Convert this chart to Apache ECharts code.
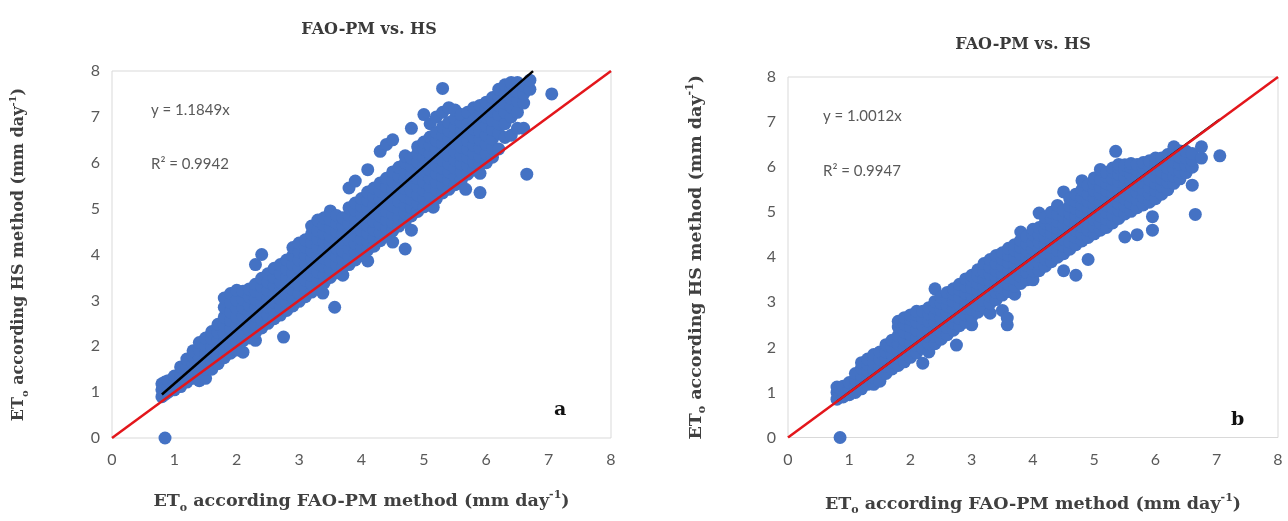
<!DOCTYPE html>
<html>
<head>
<meta charset="utf-8">
<script src="https://cdn.jsdelivr.net/npm/echarts@6/dist/echarts.min.js"></script>
<style>
  html, body { margin: 0; padding: 0; background: #fff; }
  #chart { width: 1288px; height: 521px; }
</style>
</head>
<body>
<div id="chart"></div>
<script>
// axis ticks shared by both panels
const axisTicks = [0, 1, 2, 3, 4, 5, 6, 7, 8];

// panel a: FAO-PM (x) vs HS (y)
const panelACols = [
  [0.80, [0.9, 1.05, 1.18]],
  [0.85, [0.0, 0.95, 1.1, 1.22]],
  [0.90, [1.0, 1.12, 1.25]],
  [1.00, [1.05, 1.2, 1.35]],
  [1.10, [1.12, 1.28, 1.42, 1.55]],
  [1.20, [1.22, 1.38, 1.55, 1.72]],
  [1.30, [1.3, 1.46, 1.62, 1.78, 1.9]],
  [1.40, [1.25, 1.42, 1.58, 1.75, 1.92, 2.08]],
  [1.50, [1.3, 1.5, 1.68, 1.85, 2.02, 2.18]],
  [1.60, [1.5, 1.66, 1.83, 2.0, 2.17, 2.32]],
  [1.70, [1.62, 1.8, 1.97, 2.14, 2.3, 2.48]],
  [1.80, [1.75, 1.92, 2.1, 2.28, 2.46, 2.64, 2.85, 3.05]],
  [1.90, [1.85, 2.02, 2.2, 2.38, 2.56, 2.75, 2.95, 3.15]],
  [2.00, [1.92, 2.1, 2.28, 2.46, 2.64, 2.82, 3.0, 3.22]],
  [2.10, [1.87, 2.12, 2.3, 2.48, 2.66, 2.84, 3.02, 3.2]],
  [2.20, [2.18, 2.36, 2.54, 2.72, 2.9, 3.08, 3.25]],
  [2.30, [2.13, 2.3, 2.48, 2.66, 2.84, 3.02, 3.2, 3.35, 3.78]],
  [2.40, [2.4, 2.58, 2.76, 2.94, 3.12, 3.3, 3.48, 4.0]],
  [2.50, [2.5, 2.68, 2.86, 3.04, 3.22, 3.4, 3.58]],
  [2.60, [2.6, 2.78, 2.96, 3.14, 3.32, 3.5, 3.7]],
  [2.70, [2.68, 2.86, 3.04, 3.22, 3.4, 3.58, 3.78]],
  [2.75, [2.2]],
  [2.80, [2.78, 2.96, 3.14, 3.32, 3.5, 3.68, 3.88]],
  [2.90, [2.88, 3.06, 3.24, 3.42, 3.6, 3.78, 3.98, 4.15]],
  [3.00, [2.98, 3.16, 3.34, 3.52, 3.7, 3.88, 4.06, 4.25]],
  [3.10, [3.08, 3.26, 3.44, 3.62, 3.8, 3.98, 4.16, 4.32]],
  [3.20, [3.18, 3.36, 3.54, 3.72, 3.9, 4.08, 4.26, 4.45, 4.62]],
  [3.30, [3.25, 3.44, 3.62, 3.8, 3.98, 4.16, 4.34, 4.52, 4.75]],
  [3.38, [3.16]],
  [3.40, [3.38, 3.56, 3.74, 3.92, 4.1, 4.28, 4.46, 4.64, 4.8]],
  [3.50, [3.5, 3.68, 3.86, 4.04, 4.22, 4.4, 4.58, 4.76, 4.95]],
  [3.57, [2.85]],
  [3.60, [3.6, 3.78, 3.96, 4.14, 4.32, 4.5, 4.68, 4.85]],
  [3.70, [3.55, 3.72, 3.9, 4.08, 4.26, 4.44, 4.62, 4.8]],
  [3.80, [3.78, 3.96, 4.14, 4.32, 4.5, 4.68, 4.86, 5.02, 5.45]],
  [3.90, [3.88, 4.06, 4.24, 4.42, 4.6, 4.78, 4.96, 5.12, 5.6]],
  [4.00, [3.98, 4.16, 4.34, 4.52, 4.7, 4.88, 5.06, 5.22]],
  [4.10, [3.86, 4.1, 4.28, 4.46, 4.64, 4.82, 5.0, 5.18, 5.36, 5.85]],
  [4.20, [4.18, 4.36, 4.54, 4.72, 4.9, 5.08, 5.26, 5.45]],
  [4.30, [4.3, 4.48, 4.66, 4.84, 5.02, 5.2, 5.38, 5.56, 6.25]],
  [4.40, [4.4, 4.58, 4.76, 4.94, 5.12, 5.3, 5.48, 5.66, 6.4]],
  [4.50, [4.27, 4.52, 4.7, 4.88, 5.06, 5.24, 5.42, 5.6, 5.8, 6.5]],
  [4.60, [4.62, 4.8, 4.98, 5.16, 5.34, 5.52, 5.7, 5.9]],
  [4.70, [4.12, 4.72, 4.9, 5.08, 5.26, 5.44, 5.62, 5.8, 6.0, 6.15]],
  [4.80, [4.53, 4.84, 5.02, 5.2, 5.38, 5.56, 5.74, 5.92, 6.1, 6.75]],
  [4.90, [4.94, 5.12, 5.3, 5.48, 5.66, 5.84, 6.02, 6.2, 6.35]],
  [5.00, [5.04, 5.22, 5.4, 5.58, 5.76, 5.94, 6.12, 6.3, 6.45, 7.05]],
  [5.10, [5.1, 5.3, 5.48, 5.66, 5.84, 6.02, 6.2, 6.38, 6.56, 6.85]],
  [5.15, [5.03]],
  [5.20, [5.22, 5.4, 5.58, 5.76, 5.94, 6.12, 6.3, 6.48, 6.66, 7.0]],
  [5.30, [5.34, 5.52, 5.7, 5.88, 6.06, 6.24, 6.42, 6.6, 6.78, 7.1, 7.62]],
  [5.40, [5.42, 5.62, 5.8, 5.98, 6.16, 6.34, 6.52, 6.7, 6.88, 7.2]],
  [5.50, [5.52, 5.7, 5.88, 6.06, 6.24, 6.42, 6.6, 6.78, 6.96, 7.15]],
  [5.60, [5.62, 5.8, 5.98, 6.16, 6.34, 6.52, 6.7, 6.88, 7.05]],
  [5.67, [5.42]],
  [5.70, [5.75, 5.94, 6.12, 6.3, 6.48, 6.66, 6.84, 7.1]],
  [5.80, [5.84, 6.02, 6.2, 6.38, 6.56, 6.74, 6.92, 7.2]],
  [5.90, [5.35, 5.77, 5.96, 6.14, 6.32, 6.5, 6.68, 6.86, 7.04, 7.25]],
  [6.00, [6.0, 6.2, 6.4, 6.6, 6.8, 7.0, 7.18, 7.32]],
  [6.10, [6.12, 6.32, 6.52, 6.72, 6.92, 7.12, 7.3, 7.42]],
  [6.20, [6.3, 6.64, 6.85, 7.05, 7.25, 7.45, 7.6]],
  [6.30, [6.55, 6.85, 7.1, 7.3, 7.5, 7.7]],
  [6.40, [6.6, 7.0, 7.22, 7.4, 7.62, 7.75]],
  [6.50, [6.75, 7.1, 7.35, 7.55, 7.75]],
  [6.60, [6.75, 7.3, 7.5, 7.68]],
  [6.65, [5.75]],
  [6.70, [7.6, 7.8]],
  [7.05, [7.5]]
];

// panel b
const panelBCols = [
  [0.80, [0.85, 1.0, 1.12]],
  [0.85, [0.0, 0.92, 1.08]],
  [0.90, [0.9, 1.02, 1.14]],
  [1.00, [0.95, 1.08, 1.22]],
  [1.10, [1.0, 1.14, 1.28, 1.42]],
  [1.20, [1.08, 1.22, 1.38, 1.54, 1.66]],
  [1.30, [1.18, 1.32, 1.48, 1.62, 1.74]],
  [1.40, [1.18, 1.34, 1.5, 1.66, 1.84]],
  [1.50, [1.25, 1.42, 1.58, 1.74, 1.9]],
  [1.60, [1.42, 1.58, 1.74, 1.9, 2.06]],
  [1.70, [1.52, 1.68, 1.84, 2.0, 2.16]],
  [1.80, [1.6, 1.76, 1.92, 2.08, 2.26, 2.45, 2.58]],
  [1.90, [1.68, 1.84, 2.0, 2.16, 2.34, 2.52, 2.66]],
  [2.00, [1.78, 1.94, 2.1, 2.28, 2.46, 2.62, 2.72]],
  [2.10, [1.88, 2.04, 2.2, 2.38, 2.56, 2.72, 2.8]],
  [2.20, [1.65, 1.98, 2.14, 2.3, 2.48, 2.64, 2.8]],
  [2.30, [1.9, 2.08, 2.24, 2.4, 2.58, 2.74, 2.88]],
  [2.40, [2.08, 2.24, 2.4, 2.56, 2.72, 2.88, 3.02, 3.3]],
  [2.50, [2.18, 2.34, 2.5, 2.66, 2.82, 2.98, 3.12]],
  [2.60, [2.28, 2.44, 2.6, 2.76, 2.92, 3.08, 3.22]],
  [2.70, [2.38, 2.54, 2.7, 2.86, 3.02, 3.18, 3.3]],
  [2.75, [2.05]],
  [2.80, [2.48, 2.64, 2.8, 2.96, 3.12, 3.28, 3.4]],
  [2.90, [2.56, 2.72, 2.88, 3.04, 3.2, 3.36, 3.52]],
  [3.00, [2.5, 2.68, 2.84, 3.0, 3.16, 3.32, 3.48, 3.6]],
  [3.10, [2.78, 2.94, 3.1, 3.26, 3.42, 3.58, 3.72]],
  [3.20, [2.88, 3.04, 3.2, 3.36, 3.52, 3.68, 3.86]],
  [3.30, [2.76, 2.98, 3.14, 3.3, 3.46, 3.62, 3.78, 3.95]],
  [3.40, [3.06, 3.22, 3.38, 3.54, 3.7, 3.86, 4.04]],
  [3.50, [2.82, 3.16, 3.32, 3.48, 3.64, 3.8, 3.96, 4.1]],
  [3.58, [2.5, 2.65]],
  [3.60, [3.24, 3.4, 3.56, 3.72, 3.88, 4.04, 4.2]],
  [3.70, [3.18, 3.36, 3.52, 3.68, 3.84, 4.0, 4.16, 4.28]],
  [3.80, [3.42, 3.58, 3.74, 3.9, 4.06, 4.22, 4.38, 4.56]],
  [3.90, [3.5, 3.66, 3.82, 3.98, 4.14, 4.3, 4.46]],
  [4.00, [3.5, 3.7, 3.86, 4.02, 4.18, 4.34, 4.5, 4.62]],
  [4.10, [3.7, 3.86, 4.02, 4.18, 4.34, 4.5, 4.66, 4.98]],
  [4.20, [3.8, 3.96, 4.12, 4.28, 4.44, 4.6, 4.76, 4.88]],
  [4.30, [3.9, 4.06, 4.22, 4.38, 4.54, 4.7, 4.86, 5.0]],
  [4.40, [4.0, 4.16, 4.32, 4.48, 4.64, 4.8, 4.96, 5.15]],
  [4.50, [3.7, 4.08, 4.24, 4.4, 4.56, 4.72, 4.88, 5.04, 5.45]],
  [4.60, [4.18, 4.34, 4.5, 4.66, 4.82, 4.98, 5.14, 5.3]],
  [4.70, [3.6, 4.28, 4.44, 4.6, 4.76, 4.92, 5.08, 5.24, 5.4]],
  [4.80, [4.36, 4.52, 4.68, 4.84, 5.0, 5.16, 5.32, 5.5, 5.7]],
  [4.90, [3.95, 4.44, 4.6, 4.76, 4.92, 5.08, 5.24, 5.4, 5.6]],
  [5.00, [4.52, 4.68, 4.84, 5.0, 5.16, 5.32, 5.48, 5.64, 5.76]],
  [5.10, [4.6, 4.76, 4.92, 5.08, 5.24, 5.4, 5.56, 5.72, 5.95]],
  [5.20, [4.66, 4.84, 5.0, 5.16, 5.32, 5.48, 5.64, 5.8, 5.88]],
  [5.30, [4.76, 4.94, 5.1, 5.26, 5.42, 5.58, 5.74, 5.9, 5.98]],
  [5.35, [6.35]],
  [5.40, [4.86, 5.04, 5.2, 5.36, 5.52, 5.68, 5.84, 6.0, 6.06]],
  [5.50, [4.45, 4.96, 5.14, 5.3, 5.46, 5.62, 5.78, 5.94, 6.05]],
  [5.60, [5.02, 5.2, 5.36, 5.52, 5.68, 5.84, 6.0, 6.08]],
  [5.70, [4.5, 5.1, 5.28, 5.44, 5.6, 5.76, 5.92, 6.06]],
  [5.80, [5.16, 5.34, 5.5, 5.66, 5.82, 5.98, 6.1]],
  [5.90, [5.22, 5.4, 5.56, 5.72, 5.88, 6.04, 6.14]],
  [5.95, [4.6, 4.9]],
  [6.00, [5.3, 5.48, 5.64, 5.8, 5.96, 6.1, 6.2]],
  [6.10, [5.4, 5.58, 5.74, 5.9, 6.06, 6.2]],
  [6.20, [5.5, 5.66, 5.82, 5.98, 6.12, 6.28]],
  [6.30, [5.64, 5.8, 5.96, 6.12, 6.28, 6.45]],
  [6.40, [5.74, 5.9, 6.06, 6.22, 6.36]],
  [6.50, [5.88, 6.04, 6.2, 6.35]],
  [6.60, [5.6, 6.0, 6.16, 6.3]],
  [6.65, [4.95]],
  [6.75, [6.2, 6.45]],
  [7.05, [6.25]]
];

// fitted slopes shown on the chart and the x-range the trendlines cover
const slopeA = 1.1849;
const slopeB = 1.0012;
const r2A = 0.9942;
const r2B = 0.9947;
const trendRangeA = [0.8, 6.75];
const trendRangeB = [0.8, 7.05];
const oneToOne = [0, 8];

function flatten(cols) {
  const out = [];
  cols.forEach(([x, ys]) => ys.forEach((y) => out.push([x, y])));
  return out;
}

const serif = {
  fontFamily: "DejaVu Serif",
  fontWeight: "bold",
  color: "#404040",
};
// rich style with a subscript "o" and a superscript "-1"
function nameStyle(size) {
  const small = Math.round(size * 0.62);
  return {
    ...serif,
    fontSize: size,
    rich: {
      t: { ...serif, fontSize: size, lineHeight: size + 6, verticalAlign: "middle" },
      s: { ...serif, fontSize: small, lineHeight: small, verticalAlign: "bottom" },
      p: { ...serif, fontSize: small, lineHeight: small, verticalAlign: "top" },
    },
  };
}
const yName = "{t|ET}{s|o}{t| according HS method (mm day}{p|-1}{t|)}";
const xName = "{t|ET}{s|o}{t| according FAO-PM method (mm day}{p|-1}{t|)}";

function makeXAxis(idx) {
  return {
    type: "value",
    gridIndex: idx,
    min: axisTicks[0],
    max: axisTicks[axisTicks.length - 1],
    interval: 1,
    axisLine: { show: false },
    axisTick: { show: false },
    splitLine: { show: false },
    axisLabel: { color: "#595959", fontSize: 16, fontFamily: "Lato", margin: 14 },
    name: xName,
    nameLocation: "middle",
    nameGap: idx === 0 ? 52 : 55,
    nameTextStyle: nameStyle(17.5),
  };
}

function makeYAxis(idx) {
  return {
    type: "value",
    gridIndex: idx,
    min: axisTicks[0],
    max: axisTicks[axisTicks.length - 1],
    interval: 1,
    axisLine: { show: false },
    axisTick: { show: false },
    splitLine: { show: false },
    axisLabel: { color: "#595959", fontSize: 16, fontFamily: "Lato", margin: 12 },
    name: yName,
    nameLocation: "middle",
    nameGap: idx === 0 ? 82 : 80,
    nameTextStyle: nameStyle(idx === 0 ? 16 : 17.5),
  };
}

const dotColor = "#4472C4";
const redColor = "#e3161b";

const chart = echarts.init(document.getElementById("chart"), null, { renderer: "canvas" });

const textStyle = { color: "#595959", fontSize: 15, fontFamily: "Lato", fontWeight: "normal" };
const titleStyle = { color: "#3a3a3a", fontSize: 16, fontFamily: "DejaVu Serif", fontWeight: "bold" };
const letterStyle = { color: "#111", fontSize: 19, fontFamily: "DejaVu Serif", fontWeight: "bold" };

chart.setOption({
  backgroundColor: "#ffffff",
  animation: false,
  title: [
    { text: "FAO-PM vs. HS", left: 364, top: 17, textAlign: "center", textStyle: titleStyle },
    { text: "FAO-PM vs. HS", left: 1018, top: 32, textAlign: "center", textStyle: titleStyle },
    { text: "y = " + slopeA + "x", left: 146, top: 98, textStyle },
    { text: "R² = " + r2A, left: 146, top: 152, textStyle },
    { text: "y = " + slopeB + "x", left: 818, top: 104, textStyle },
    { text: "R² = " + r2B, left: 818, top: 159, textStyle },
    { text: "a", left: 549, top: 396, textStyle: letterStyle },
    { text: "b", left: 1226, top: 406, textStyle: letterStyle },
  ],
  grid: [
    { left: 112, top: 71, width: 499, height: 367, show: true, borderColor: "#d9d9d9", borderWidth: 1 },
    { left: 788, top: 77, width: 490, height: 367, show: true, borderColor: "#d9d9d9", borderWidth: 1 },
  ],
  xAxis: [makeXAxis(0), makeXAxis(1)],
  yAxis: [makeYAxis(0), makeYAxis(1)],
  series: [
    {
      type: "scatter",
      xAxisIndex: 0,
      yAxisIndex: 0,
      symbolSize: 13,
      itemStyle: { color: dotColor, opacity: 1 },
      data: flatten(panelACols),
    },
    {
      type: "line",
      xAxisIndex: 0,
      yAxisIndex: 0,
      symbol: "none",
      lineStyle: { color: redColor, width: 2.5 },
      data: oneToOne.map((v) => [v, v]),
    },
    {
      type: "line",
      xAxisIndex: 0,
      yAxisIndex: 0,
      symbol: "none",
      lineStyle: { color: "#000", width: 2.5 },
      data: trendRangeA.map((x) => [x, x * slopeA]),
    },
    {
      type: "scatter",
      xAxisIndex: 1,
      yAxisIndex: 1,
      symbolSize: 13,
      itemStyle: { color: dotColor, opacity: 1 },
      data: flatten(panelBCols),
    },
    {
      type: "line",
      xAxisIndex: 1,
      yAxisIndex: 1,
      symbol: "none",
      lineStyle: { color: "#000", width: 2 },
      data: trendRangeB.map((x) => [x, x * slopeB]),
    },
    {
      type: "line",
      xAxisIndex: 1,
      yAxisIndex: 1,
      symbol: "none",
      lineStyle: { color: redColor, width: 2.5 },
      data: oneToOne.map((v) => [v, v]),
    },
  ],
});
</script>
</body>
</html>
